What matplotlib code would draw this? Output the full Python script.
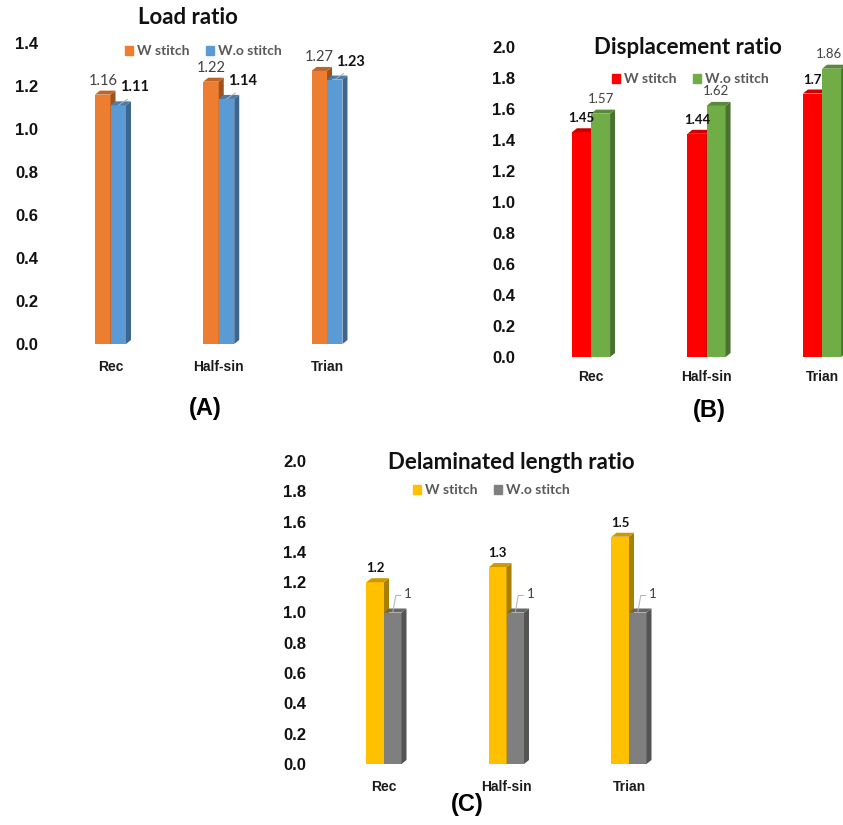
import numpy as np
import matplotlib.pyplot as plt
from matplotlib.patches import Polygon, Patch

W, H = 843, 825

categories = ['Rec', 'Half-sin', 'Trian']
series = ['W stitch', 'W.o stitch']

load_w = [1.16, 1.22, 1.27]
load_wo = [1.11, 1.14, 1.23]
disp_w = [1.45, 1.44, 1.7]
disp_wo = [1.57, 1.62, 1.86]
delam_w = [1.2, 1.3, 1.5]
delam_wo = [1, 1, 1]

fig = plt.figure(figsize=(W / 100, H / 100), dpi=100)


def shade(c, f):
    c = np.array(plt.matplotlib.colors.to_rgb(c))
    return tuple(c * f)


def make_axes(cx0, cx2, y0, ytop, ymax):
    # cx0/cx2 = pixel centre of first/last group, y0 = pixel of zero, ytop = pixel of ymax
    step = (cx2 - cx0) / 2
    left = cx0 - 0.5 * step
    right = cx2 + 0.5 * step
    ax = fig.add_axes([left / W, 1 - y0 / H, (right - left) / W, (y0 - ytop) / H])
    ax.set_xlim(-0.5, 2.5)
    ax.set_ylim(0, ymax)
    for s in ax.spines.values():
        s.set_visible(False)
    ppx = step                 # pixels per x unit
    ppy = (y0 - ytop) / ymax   # pixels per y unit
    return ax, ppx, ppy


def bars3d(ax, xs, vals, w, color, ppx, ppy, dpx=5, dpy=4):
    dx, dy = dpx / ppx, dpy / ppy
    ax.bar(xs, vals, w, color=color, linewidth=0, zorder=2)
    for x, h in zip(xs, vals):
        r = x + w / 2
        l = x - w / 2
        ax.add_patch(Polygon([(r, 0), (r + dx, dy), (r + dx, h + dy), (r, h)],
                             closed=True, color=shade(color, 0.66), lw=0, zorder=2, clip_on=False))
        ax.add_patch(Polygon([(l, h), (r, h), (r + dx, h + dy), (l + dx, h + dy)],
                             closed=True, color=shade(color, 0.8), lw=0, zorder=2, clip_on=False))


def panel(vals_w, vals_wo, c_w, c_wo, cx0, cx2, y0, ytop, ymax, w,
          xpad, tickpad, title, tpos, lpos, tag, tagpos):
    ax, ppx, ppy = make_axes(cx0, cx2, y0, ytop, ymax)
    x = np.arange(len(categories))
    bars3d(ax, x - w / 2, vals_w, w, c_w, ppx, ppy)
    bars3d(ax, x + w / 2, vals_wo, w, c_wo, ppx, ppy)
    yt = np.arange(0, ymax + 0.001, 0.2)
    ax.set_yticks(yt)
    ax.set_yticklabels(['%.1f' % v for v in yt], fontsize=12, fontweight='bold',
                       family='Liberation Sans', color='#111111')
    ax.set_xticks(x)
    ax.set_xticklabels(categories, fontsize=10, fontweight='bold',
                       family='Liberation Sans', color='#1a1a1a')
    ax.tick_params(axis='y', length=0, pad=tickpad)
    ax.tick_params(axis='x', length=0, pad=xpad)
    fig.text(tpos[0] / W, 1 - tpos[1] / H, title, ha='center', va='center',
             fontsize=16, fontweight='bold', family='Lato', color='#111111')
    handles = [Patch(color=c_w), Patch(color=c_wo)]
    fig.legend(handles, series, loc='center', bbox_to_anchor=(lpos[0] / W, 1 - lpos[1] / H),
               ncol=2, frameon=False, handlelength=0.6, handleheight=0.6, handletextpad=0.25,
               columnspacing=1.2, labelcolor='#595959',
               prop={'weight': 'bold', 'size': 10, 'family': 'Lato'})
    fig.text(tagpos[0] / W, 1 - tagpos[1] / H, tag, ha='center', va='center',
             fontsize=17, fontweight='bold', family='Liberation Sans')
    return ax, x


def label(ax, x, v, txt, off, bold, size, lead=None):
    ax.annotate(txt, (x, v), xytext=off, textcoords='offset pixels', ha='center', va='center',
                fontsize=size, fontweight='bold' if bold else 'normal', family='Lato',
                color='#111111' if bold else '#404040', zorder=5, annotation_clip=False)
    if lead is not None:
        pts = [(0, 0)] + lead
        tr = ax.transData
        px, py = tr.transform((x, v))
        xy = [tr.inverted().transform((px + a, py + b)) for a, b in pts]
        ax.plot([p[0] for p in xy], [p[1] for p in xy], color='#b0b0b0', lw=0.7,
                zorder=4, clip_on=False)


# (A) Load ratio
w = 0.143
axA, x = panel(load_w, load_wo, '#ED7D31', '#5B9BD5', 110.5, 327, 344, 43, 1.4, w,
               11.5, 13, 'Load ratio', (188, 17), (203, 51), '(A)', (205, 408))
for i in range(3):
    label(axA, x[i] - w / 2, load_w[i], '%.2f' % load_w[i], (0, 14), False, 10.5)
    label(axA, x[i] + w / 2, load_wo[i], '%.2f' % load_wo[i], (16, 18), True, 10.5,
          lead=[(9, 6)])

# (B) Displacement ratio
w = 0.165
axB, x = panel(disp_w, disp_wo, '#FF0000', '#70AD47', 591, 822, 357, 47, 2.0, w,
               9.5, 13, 'Displacement ratio', (688, 48), (690, 79), '(B)', (709, 410))
for i in range(3):
    label(axB, x[i] - w / 2, disp_w[i], '%g' % disp_w[i], (0, 14), True, 9.5)
    # last label sits against the right edge, nudge it inside
    label(axB, x[i] + w / 2, disp_wo[i], '%g' % disp_wo[i], (-3 if i == 2 else 0, 15), False, 9.5)

# (C) Delaminated length ratio
w = 0.143
axC, x = panel(delam_w, delam_wo, '#FFC000', '#7F7F7F', 384, 629, 764, 461, 2.0, w,
               11.5, 12, 'Delaminated length ratio', (511, 462), (491, 490), '(C)', (467, 804))
for i in range(3):
    label(axC, x[i] - w / 2, delam_w[i], '%g' % delam_w[i], (0, 14), True, 9.5)
    label(axC, x[i] + w / 2, delam_wo[i], '%g' % delam_wo[i], (15, 19), False, 9.5,
          lead=[(3, 17), (8, 17)])

fig.savefig('out.png', dpi=100)
